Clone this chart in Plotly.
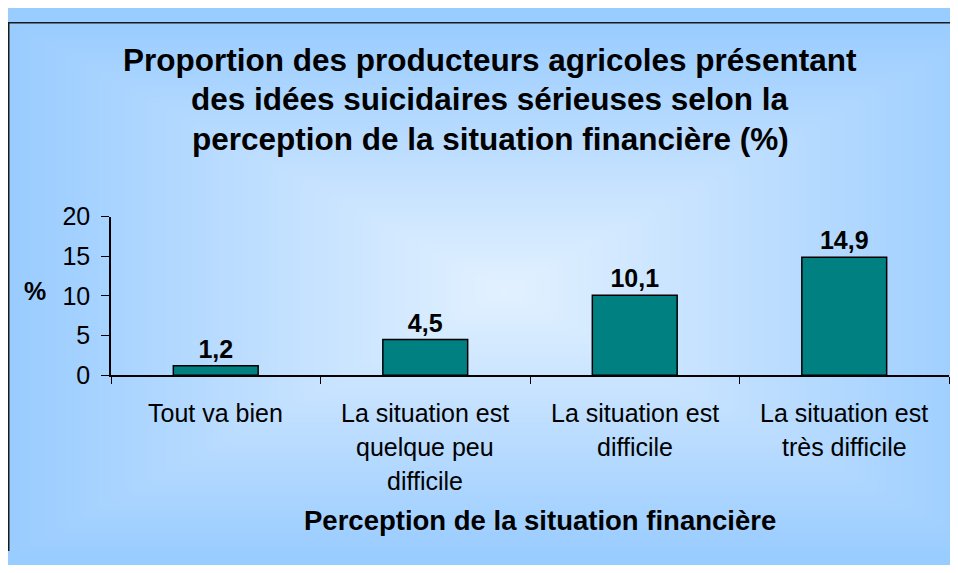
import numpy as np
import plotly.graph_objects as go

W, H = 942, 557

# data
categories = ["Tout va bien",
              "La situation est<br>quelque peu<br>difficile",
              "La situation est<br>difficile",
              "La situation est<br>très difficile"]
values = [1.2, 4.5, 10.1, 14.9]
y_ticks = [0, 5, 10, 15, 20]
title_lines = ["Proportion des producteurs agricoles présentant",
               "des idées suicidaires sérieuses selon la",
               "perception de la situation financière (%)"]
x_title = "Perception de la situation financière"
y_title = "%"

FONT = "Liberation Sans, Arial, sans-serif"

def px_x(p):
    return p / W

def px_y(p):
    return 1 - p / H

# background gradient (rectangular, light in the middle)
n = 60
gx = np.linspace(0, W, n)
gy = np.linspace(0, H, n)
cx, cy = 497, 282
u = np.abs(gx - cx) / max(cx, W - cx)
v = np.abs(gy - cy) / max(cy, H - cy)
grad = np.clip(np.maximum(u[None, :], v[:, None]), 0, 1)

fig = go.Figure()

fig.add_trace(go.Heatmap(
    x=gx, y=gy, z=grad, zsmooth="best", showscale=False, hoverinfo="skip",
    colorscale=[[0, "#e2f1ff"], [0.45, "#c2e0ff"], [1, "#99ccff"]],
    zmin=0, zmax=1, xaxis="x", yaxis="y",
))

fig.add_trace(go.Bar(
    x=categories, y=values, xaxis="x2", yaxis="y2",
    marker=dict(color="#008080", line=dict(color="#000000", width=1.5)),
    width=0.405,
    text=[f"{v:.1f}".replace(".", ",") for v in values],
    textposition="outside", cliponaxis=False,
    textfont=dict(family=FONT, size=25, color="#000000", weight="bold"),
))

annotations = []
for i, line in enumerate(title_lines):
    annotations.append(dict(
        text=f"<b>{line}</b>", xref="paper", yref="paper",
        x=px_x(482), y=px_y(40 + 41.5 * i), xanchor="center", yanchor="middle",
        showarrow=False, font=dict(family=FONT, size=31.5, color="#000000"),
    ))

for cat in categories:
    for j, line in enumerate(cat.split("<br>")):
        annotations.append(dict(
            text=line, xref="x2", yref="paper", x=cat,
            y=px_y(372), yshift=-(38 + 34 * j), xanchor="center", yanchor="middle",
            showarrow=False, font=dict(family=FONT, size=25, color="#000000"),
        ))

annotations.append(dict(
    text=f"<b>{x_title}</b>", xref="paper", yref="paper",
    x=px_x(532), y=px_y(525), xanchor="center", yanchor="middle",
    showarrow=False, font=dict(family=FONT, size=27.5, color="#000000"),
))
annotations.append(dict(
    text=f"<b>{y_title}</b>", xref="paper", yref="paper",
    x=px_x(27), y=px_y(283), xanchor="center", yanchor="middle",
    showarrow=False, font=dict(family=FONT, size=25, color="#000000"),
))

fig.update_layout(
    width=W, height=H,
    margin=dict(l=0, r=0, t=0, b=0),
    paper_bgcolor="#99ccff",
    plot_bgcolor="rgba(0,0,0,0)",
    showlegend=False,
    font=dict(family=FONT, size=25, color="#000000"),
    xaxis=dict(domain=[0, 1], range=[0, W], visible=False, fixedrange=True),
    yaxis=dict(domain=[0, 1], range=[H, 0], visible=False, fixedrange=True),
    xaxis2=dict(
        domain=[px_x(103), px_x(941)], anchor="y2",
        showline=True, linecolor="#000000", linewidth=1.5,
        ticks="outside", tickson="boundaries", ticklen=7, tickcolor="#000000",
        showticklabels=False, showgrid=False, zeroline=False,
    ),
    yaxis2=dict(
        domain=[px_y(372), px_y(205)], anchor="x2",
        range=[0, 20], tickvals=y_ticks,
        showline=True, linecolor="#000000", linewidth=1.5,
        ticks="outside", ticklen=8, tickcolor="#000000",
        ticklabelstandoff=6,
        tickfont=dict(family=FONT, size=25, color="#000000"),
        showgrid=False, zeroline=False,
    ),
    annotations=annotations,
    shapes=[
        dict(type="line", xref="paper", yref="paper", x0=px_x(0.75), x1=px_x(0.75),
             y0=0, y1=1, line=dict(color="#1a1a1a", width=1.5), layer="above"),
        dict(type="line", xref="paper", yref="paper", x0=0, x1=1,
             y0=px_y(0.75), y1=px_y(0.75), line=dict(color="#1a1a1a", width=1.5), layer="above"),
    ],
)

fig.write_html("out.html")
